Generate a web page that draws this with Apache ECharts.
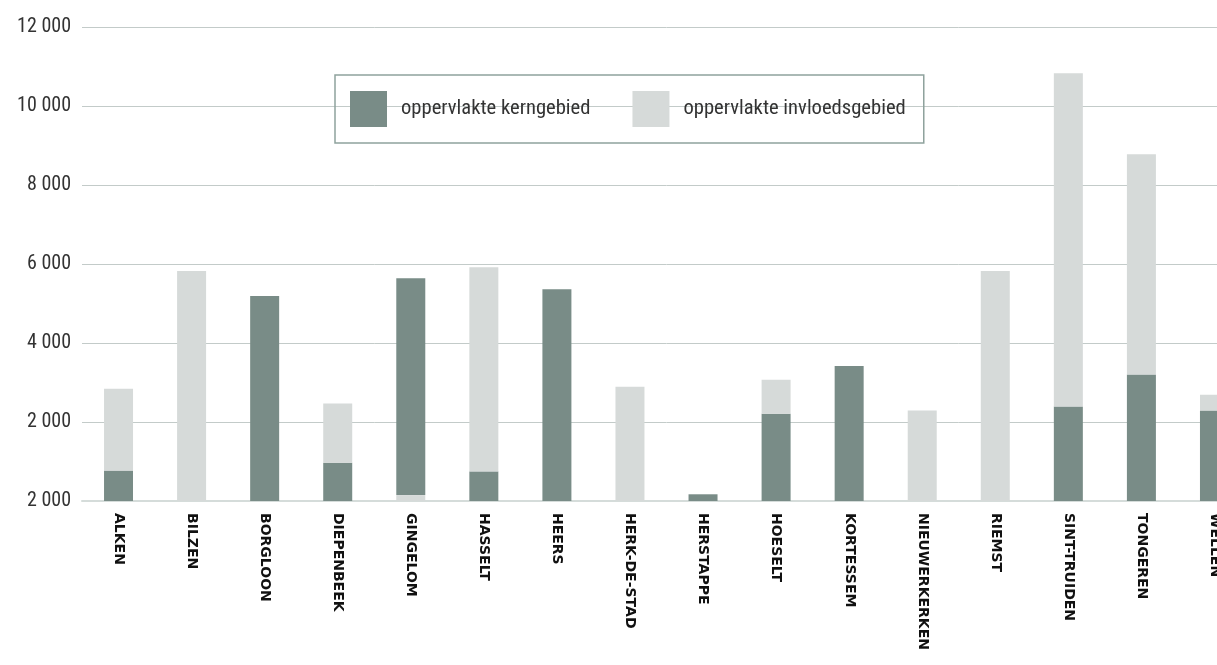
<!DOCTYPE html>
<html><head><meta charset="utf-8">
<script src="https://cdn.jsdelivr.net/npm/echarts@6/dist/echarts.min.js"></script>
<style>html,body{margin:0;padding:0;background:#fff;overflow:hidden;width:1217px;height:665px}#c{width:1251px;height:665px}</style>
</head><body><div id="c"></div>
<script>
var categories = ['ALKEN','BILZEN','BORGLOON','DIEPENBEEK','GINGELOM','HASSELT','HEERS','HERK-DE-STAD','HERSTAPPE','HOESELT','KORTESSEM','NIEUWERKERKEN','RIEMST','SINT-TRUIDEN','TONGEREN','WELLEN'];
// bottom light segment (only GINGELOM shows influence area below the core)
var invloedOnder = [0,0,0,0,150,0,0,0,0,0,0,0,0,0,0,0];
var kerngebied   = [770,0,5190,970,5490,750,5360,0,170,2210,3420,0,0,2390,3200,2290];
var invloedsgebied = [2070,5820,0,1500,0,5170,0,2890,0,860,0,2290,5820,8440,5580,400];
var yTickLabels = ['2 000','2 000','4 000','6 000','8 000','10 000','12 000'];
var seriesNames = ['oppervlakte kerngebied','oppervlakte invloedsgebied'];

var DARK = '#798c87', LIGHT = '#d6dad9';
var COND = '"Roboto Condensed", "Liberation Sans Narrow", Roboto';
var chart = echarts.init(document.getElementById('c'));
chart.setOption({
  animation: false,
  grid: {left: 82, right: 0, top: 27, bottom: 164, containLabel: false},
  legend: {
    data: seriesNames,
    left: 335, top: 75,
    padding: [16, 18, 16, 15],
    itemWidth: 37, itemHeight: 36, itemGap: 42,
    borderColor: '#8fa29d', borderWidth: 1.5,
    textStyle: {fontFamily: COND, fontSize: 20.6, color: '#333', padding: [0,0,0,9]},
    icon: 'rect'
  },
  xAxis: {
    type: 'category', data: categories,
    axisTick: {show: false},
    axisLine: {show: true, lineStyle: {color: '#d5dcda', width: 2}},
    axisLabel: {rotate: -90, interval: 0, margin: 12, fontFamily: 'DejaVu Sans', fontWeight: 'bold', fontSize: 14, color: '#111'}
  },
  yAxis: {
    type: 'value', min: 0, max: 12000, interval: 2000,
    axisLine: {show: false}, axisTick: {show: false},
    splitLine: {lineStyle: {color: '#c3cbc9', width: 1}},
    axisLabel: {margin: 11, fontFamily: COND, fontSize: 20, color: '#333',
      formatter: function(v){ return yTickLabels[Math.round(v/2000)]; }}
  },
  series: [
    {name: 'onder', type: 'bar', stack: 's', barWidth: 29, data: invloedOnder, itemStyle: {color: LIGHT}},
    {name: seriesNames[0], type: 'bar', stack: 's', barWidth: 29, data: kerngebied, itemStyle: {color: DARK}},
    {name: seriesNames[1], type: 'bar', stack: 's', barWidth: 29, data: invloedsgebied, itemStyle: {color: LIGHT}}
  ]
});
</script></body></html>
